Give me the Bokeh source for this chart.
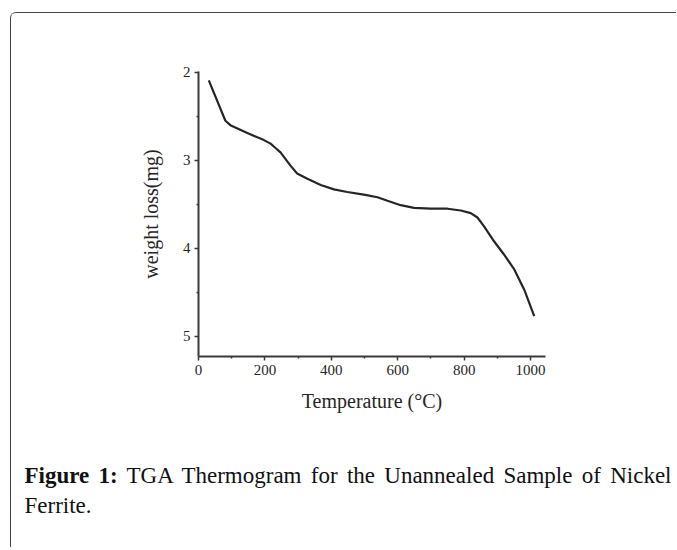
from bokeh.plotting import figure
from bokeh.models import Range1d, FixedTicker, Div
from bokeh.layouts import column
from bokeh.embed import file_html
from bokeh.resources import INLINE

# Data
temperature = [31, 81, 96, 147, 197, 217, 232, 247, 277, 297, 328, 368, 408, 448,
               498, 539, 569, 609, 649, 699, 750, 790, 820, 840, 860, 890, 920,
               951, 981, 1011]
weight_loss = [2.09, 2.55, 2.60, 2.69, 2.77, 2.81, 2.86, 2.91, 3.06, 3.15, 3.21,
               3.28, 3.33, 3.36, 3.39, 3.42, 3.46, 3.51, 3.54, 3.55, 3.55, 3.57,
               3.60, 3.65, 3.75, 3.92, 4.07, 4.24, 4.47, 4.77]

x_ticks = [0, 200, 400, 600, 800, 1000]
x_minor = [100, 300, 500, 700, 900]
y_ticks = [2, 3, 4, 5]
y_minor = [2.5, 3.5, 4.5]

caption_bold = "Figure 1:"
caption_line1 = "TGA Thermogram for the Unannealed Sample of Nickel"
caption_line2 = "Ferrite."

# card origin (inside its border) at page (11.5, 13.5)
W, H = 665, 448
FL, FT, FW, FH = 187, 58, 347, 285

p = figure(width=W, height=H, output_backend="svg", toolbar_location=None,
           x_range=Range1d(0, 1045), y_range=Range1d(5.23, 1.99),
           min_border_left=FL, min_border_top=FT,
           min_border_right=W - FL - FW, min_border_bottom=H - FT - FH,
           margin=0)
p.background_fill_color = "white"
p.border_fill_color = "white"
p.outline_line_color = None
p.grid.visible = False

p.line(temperature, weight_loss, line_color="#262626", line_width=2.2)

for ax in (p.xaxis[0], p.yaxis[0]):
    ax.axis_line_color = "#3a3a3a"
    ax.axis_line_width = 2
    ax.major_tick_line_color = "#3a3a3a"
    ax.major_tick_line_width = 1.5
    ax.minor_tick_line_color = "#3a3a3a"
    ax.minor_tick_line_width = 1.5
    ax.major_tick_out = 4
    ax.major_tick_in = 0
    ax.minor_tick_out = 2
    ax.minor_tick_in = 0
    ax.major_label_text_font = "Liberation Serif"
    ax.major_label_text_font_size = "15px"
    ax.major_label_text_color = "#262626"
    ax.axis_label_text_font = "Liberation Serif"
    ax.axis_label_text_font_size = "20px"
    ax.axis_label_text_font_style = "normal"
    ax.axis_label_text_color = "#262626"

p.xaxis[0].ticker = FixedTicker(ticks=x_ticks, minor_ticks=x_minor)
p.yaxis[0].ticker = FixedTicker(ticks=y_ticks, minor_ticks=y_minor)
p.xaxis[0].axis_label = "Temperature (°C)"
p.yaxis[0].axis_label = "weight loss(mg)"
p.xaxis[0].major_label_standoff = 4
p.xaxis[0].axis_label_standoff = 12
p.yaxis[0].major_label_standoff = 4
p.yaxis[0].axis_label_standoff = 18

cap_html = (
    '<div style="margin-left:13.5px;width:647px;font-family:\'Liberation Serif\',serif;'
    'font-size:23px;line-height:30px;color:#111111;">'
    '<span style="display:block;text-align:justify;text-align-last:justify;">'
    f'<b>{caption_bold}</b> {caption_line1}</span>'
    f'<span style="display:block;">{caption_line2}</span></div>'
)
cap = Div(text=cap_html, width=W, height=86, margin=0)

card = column(p, cap, margin=0, styles={
    "margin-left": "10px", "margin-top": "12px",
    "border-left": "1.5px solid #444444", "border-top": "1.5px solid #444444",
    "border-top-left-radius": "6px", "background": "white",
})

open("out.html", "w").write(file_html(card, INLINE))
